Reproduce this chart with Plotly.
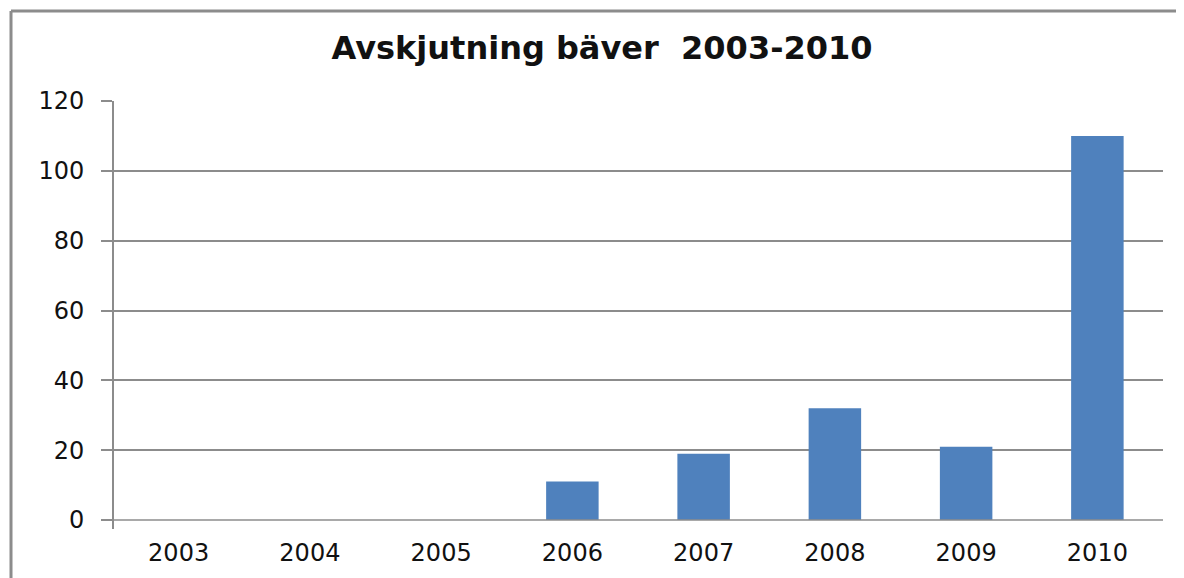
import plotly.graph_objects as go

years = ["2003", "2004", "2005", "2006", "2007", "2008", "2009", "2010"]
values = [0, 0, 0, 11, 19, 32, 21, 110]
title_text = "Avskjutning bäver  2003-2010"

GRID = "#8c8c8c"
BAR = "#4f81bd"
FONT = "DejaVu Sans"

fig = go.Figure(go.Bar(x=years, y=values, marker=dict(color=BAR, line=dict(width=0))))

W, H = 1184, 578
OFF = 8  # page body margin
# target page coords of plot area: x 113..1163, y 101..520
L, T = 113 - OFF, 101 - OFF
R = W - 1163 + OFF
B = H - 520 + OFF
pw, ph = W - L - R, H - T - B

def px(x):  # page x -> paper
    return (x - OFF - L) / pw

def py(y):  # page y -> paper
    return (H - B - (y - OFF)) / ph

fig.update_layout(
    width=W, height=H,
    margin=dict(l=L, r=R, t=T, b=B),
    paper_bgcolor="white", plot_bgcolor="white",
    bargap=0.6,
    showlegend=False,
    title=dict(text="<b>" + title_text + "</b>", xref="container", yref="container",
               x=(602 - OFF) / W, xanchor="center",
               y=1 - (48 - OFF) / H, yanchor="middle",
               font=dict(family="DejaVu Sans", size=32, color="#111")),
    font=dict(family=FONT, color="#111"),
    xaxis=dict(showgrid=False, showline=False, ticks="", zeroline=False,
               tickfont=dict(size=24, color="#111"), ticklabelstandoff=16),
    yaxis=dict(range=[0, 120], dtick=20, showgrid=True, gridcolor=GRID, gridwidth=1.5,
               zeroline=False, showline=False, ticks="outside", ticklen=11,
               tickcolor=GRID, tickwidth=1.5,
               tickfont=dict(size=24, color="#111"), ticklabelstandoff=12),
    shapes=[
        dict(type="line", xref="paper", yref="paper", x0=0, x1=0, y0=py(529), y1=1,
             line=dict(color=GRID, width=2)),
        dict(type="line", xref="paper", yref="paper", x0=0, x1=1, y0=0, y1=0,
             line=dict(color=GRID, width=1.5)),
        dict(type="line", xref="paper", yref="paper", x0=px(11), x1=px(11), y0=py(H + 5), y1=py(11),
             line=dict(color=GRID, width=3)),
        dict(type="line", xref="paper", yref="paper", x0=px(11), x1=px(1184), y0=py(11), y1=py(11),
             line=dict(color=GRID, width=3)),
    ],
)

fig.write_html("out.html")
